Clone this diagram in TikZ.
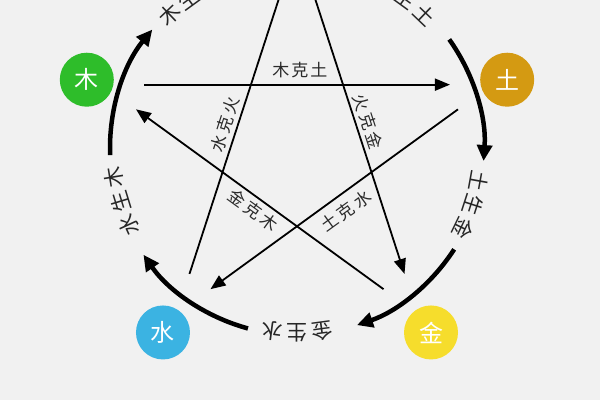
\documentclass[tikz,border=0pt]{standalone}
\usepackage{fontspec}
\newfontfamily\cjk{Noto Sans CJK SC}
\usetikzlibrary{arrows.meta}
\definecolor{bg}{HTML}{F1F1F1}
\definecolor{mucol}{HTML}{2EBD2A}
\definecolor{tucol}{HTML}{D49A12}
\definecolor{shuicol}{HTML}{3BB3E2}
\definecolor{jincol}{HTML}{F6DD2C}
\definecolor{txt}{HTML}{2A2A2A}
\newcommand\ringlabel[5]{%
  \node[ringch, rotate={#2+7.7-90}] (#1a) at ({#2+7.7}:185) {#3};
  \node[ringch, rotate={#2-90}] (#1b) at ({#2}:185) {#4};
  \node[ringch, rotate={#2-7.7-90}] (#1c) at ({#2-7.7}:185) {#5};
}
\begin{document}
\begin{tikzpicture}[x=1pt,y=1pt,
  elem/.style={circle, minimum size=54pt, inner sep=0pt, text=white, font=\cjk\fontsize{24}{24}\selectfont},
  ke/.style={line width=1.8pt, -{Triangle[length=15pt,width=12pt]}, shorten >=42pt, shorten <=42pt},
  sheng/.style={line width=4.5pt, -{Triangle[length=16pt,width=15pt]}},
  kelab/.style={font=\cjk\fontsize{17}{17}\selectfont, text=txt, inner sep=0pt},
  ringch/.style={font=\cjk\fontsize{21}{21}\selectfont, text=black!85, inner sep=0pt}]
\fill[bg] (-297,148) rectangle (303,-252);
\useasboundingbox (-297,148) rectangle (303,-252);

% pentagram vertices
\coordinate (Vhuo) at (90:205);
\coordinate (Vtu) at (18:205);
\coordinate (Vjin) at (-54:205);
\coordinate (Vshui) at (234:205);
\coordinate (Vmu) at (162:205);

% element circles
\node[elem, fill=mucol] (mu) at (162:221) {木};
\node[elem, fill=tucol] (tu) at (18:221) {土};
\node[elem, fill=shuicol] (shui) at (234:228) {水};
\node[elem, fill=jincol] (jin) at (-54:228) {金};

% ke (overcoming) lines
\draw[ke] (Vmu) -- (Vtu);
\draw[ke] (Vhuo) -- (Vjin);
\draw[ke] (Vshui) -- (Vhuo);
\draw[ke] (Vtu) -- (Vshui);
\draw[ke] (Vjin) -- (Vmu);

\node[kelab] (l1) at (3,78) {木\kern2pt克\kern2pt土};
\node[kelab, rotate=72] (l2) at (-72,24) {水\kern3pt克\kern3pt火};
\node[kelab, rotate=-72] (l3) at (71,26) {火\kern3pt克\kern3pt金};
\node[kelab, rotate=-36] (l4) at (-44,-62) {金\kern3pt克\kern3pt木};
\node[kelab, rotate=36] (l5) at (49,-63) {土\kern3pt克\kern3pt水};

% sheng (generating) ring
\coordinate (s1) at (35.5:187);
\coordinate (s2) at (-32.8:187);
\coordinate (s3) at (-105.2:187);
\coordinate (s4) at (182.2:187);
\draw[sheng] (s1) arc[start angle=35.5, end angle=-4, radius=187pt];
\draw[sheng] (s2) arc[start angle=-32.8, end angle=-71.3, radius=187pt];
\draw[sheng] (s3) arc[start angle=-105.2, end angle=-145.2, radius=187pt];
\draw[sheng] (s4) arc[start angle=182.2, end angle=140.7, radius=187pt];

\ringlabel{rA}{126}{木}{生}{火}
\ringlabel{rB}{54}{火}{生}{土}
\ringlabel{rC}{-18}{土}{生}{金}
\ringlabel{rD}{-90}{金}{生}{水}
\ringlabel{rE}{197}{水}{生}{木}
\end{tikzpicture}
\end{document}
